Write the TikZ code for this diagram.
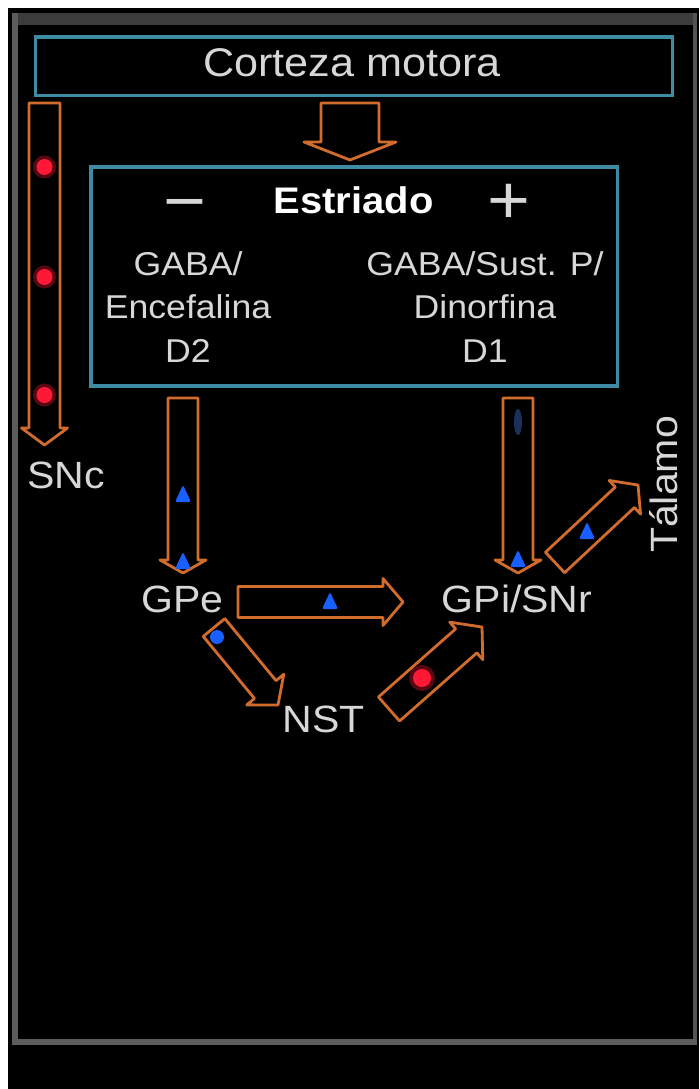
\documentclass[tikz,border=0pt]{standalone}
\usepackage{fontspec}
\setmainfont{Liberation Sans}[FakeStretch=1.08]
\usepackage{tikz}
\usetikzlibrary{calc}
\definecolor{flecha naranja}{RGB}{210,108,45}
\definecolor{caja azul}{RGB}{62,140,163}
\definecolor{texto gris}{RGB}{215,215,215}
\definecolor{marco gris}{RGB}{92,92,92}
\definecolor{banda gris}{RGB}{60,60,60}
\definecolor{punto rojo}{RGB}{255,25,55}
\definecolor{punto azul}{RGB}{25,95,255}
\definecolor{azul oscuro}{RGB}{28,48,92}

% flecha hueca: cola, punta, semiancho cuerpo, semiancho punta, largo punta
\newcommand{\flechahueca}[5]{%
  \coordinate (fh) at ($(#2)!#5!(#1)$);
  \draw[flecha] ($(#1)!#3!90:(#2)$) -- ($(fh)!#3!-90:(#1)$) -- ($(fh)!#4!-90:(#1)$)
    -- (#2) -- ($(fh)!#4!90:(#1)$) -- ($(fh)!#3!90:(#1)$) -- ($(#1)!#3!-90:(#2)$) -- cycle;}

\begin{document}
\begin{tikzpicture}[x=1pt, y=-1pt,
    flecha/.style={draw=flecha naranja, fill=black, line width=2.8pt, line join=round},
    caja/.style={draw=caja azul, line width=3.2pt, inner sep=0pt},
    rotulo/.style={text=texto gris, inner sep=0pt, font=\fontsize{38}{44}\selectfont},
    interior/.style={text=texto gris, inner sep=0pt, align=center, font=\fontsize{33}{43.5}\selectfont},
    signo/.style={text=texto gris, inner sep=0pt, font=\fontsize{68}{70}\selectfont}]
  \useasboundingbox (0,0) rectangle (699,1089);
  % fondo y marco
  \fill[white] (0,0) rectangle (699,1089);
  \fill[black] (8,8) rectangle (699,1089);
  \fill[banda gris] (12,13) rectangle (697,25);
  \fill[marco gris] (12,13) rectangle (18,1045);
  \fill[marco gris!90!black] (693,13) rectangle (697,1043);
  \fill[marco gris] (12,1039) rectangle (697,1045);

  % cajas
  \node[caja, minimum width=637pt, minimum height=58.5pt] (corteza) at (354,66.25) {};
  \node[rotulo, anchor=base, font=\fontsize{40}{44}\selectfont] (cortezatxt) at (352,77) {Corteza motora};
  \node[caja, minimum width=526.5pt, minimum height=219pt] (estriado) at (354.25,276.5) {};
  \node[rotulo, anchor=base, text=white, font=\bfseries\fontsize{37}{44}\selectfont] (estriadotxt) at (353.5,213) {Estriado};
  \node[signo] (menos) at (184.5,212) {−};
  \node[signo] (mas) at (509,204) {+};
  \node[interior, anchor=base] (d2txt) at (188,362) {GABA/\\Encefalina\\D2};
  \node[interior, anchor=base] (d1txt) at (485,362) {GABA/Sust. P/\\Dinorfina\\D1};

  % nucleos
  \node[rotulo, anchor=base] (snc) at (66,488) {SNc};
  \node[rotulo, anchor=base] (gpe) at (182.5,612) {GPe};
  \node[rotulo, anchor=base] (gpi) at (517,612) {GPi/SNr};
  \node[rotulo, anchor=base] (nst) at (324,732) {NST};
  \node[rotulo, anchor=base, rotate=90] (talamo) at (677,484.5) {Tálamo};

  % extremos de las flechas
  \coordinate (cor-sal) at (350,103);
  \coordinate (est-ent) at (350,160);
  \coordinate (snc-ini) at (44.5,103);
  \coordinate (snc-ent) at (44.5,445);
  \coordinate (d2-sal) at (183,398);
  \coordinate (gpe-ent) at (183,573);
  \coordinate (d1-sal) at (518,398);
  \coordinate (gpi-ent) at (518,573);
  \coordinate (gpe-sal) at (238,602);
  \coordinate (gpi-oeste) at (403,602);
  \coordinate (gpe-sur) at (214,627.5);
  \coordinate (nst-ent) at (278,705);
  \coordinate (nst-sal) at (389,709);
  \coordinate (gpi-sur) at (482,627);
  \coordinate (gpi-este) at (555,562.5);
  \coordinate (tal-ent) at (638,485);

  % flechas
  \flechahueca{cor-sal}{est-ent}{29pt}{46pt}{18pt}
  \flechahueca{snc-ini}{snc-ent}{15.5pt}{23pt}{17pt}
  \flechahueca{d2-sal}{gpe-ent}{15pt}{23pt}{13pt}
  \flechahueca{d1-sal}{gpi-ent}{15pt}{23pt}{13pt}
  \flechahueca{gpe-sal}{gpi-oeste}{15.5pt}{23.5pt}{20pt}
  \flechahueca{gpe-sur}{nst-ent}{14pt}{24pt}{20pt}
  \flechahueca{nst-sal}{gpi-sur}{16pt}{25pt}{21pt}
  \flechahueca{gpi-este}{tal-ent}{14pt}{23pt}{18pt}

  % senales
  \foreach \y in {167,277,395} {
    \fill[punto rojo, opacity=0.35] (44.5,\y) circle (11.5);
    \fill[punto rojo] (44.5,\y) circle (8);
  }
  \fill[punto rojo, opacity=0.35] (422,678) circle (13);
  \fill[punto rojo] (422,678) circle (9);
  \fill[azul oscuro] (518,422) ellipse (4 and 13);
  \foreach \p in {(183,495),(183,562),(330,602),(518,560),(587,532)}
    \fill[punto azul, rounded corners=2pt] \p ++(-8,7) -- ++(16,0) -- ++(-8,-17) -- cycle;
  \fill[punto azul] (217,637) circle (7);
\end{tikzpicture}
\end{document}
